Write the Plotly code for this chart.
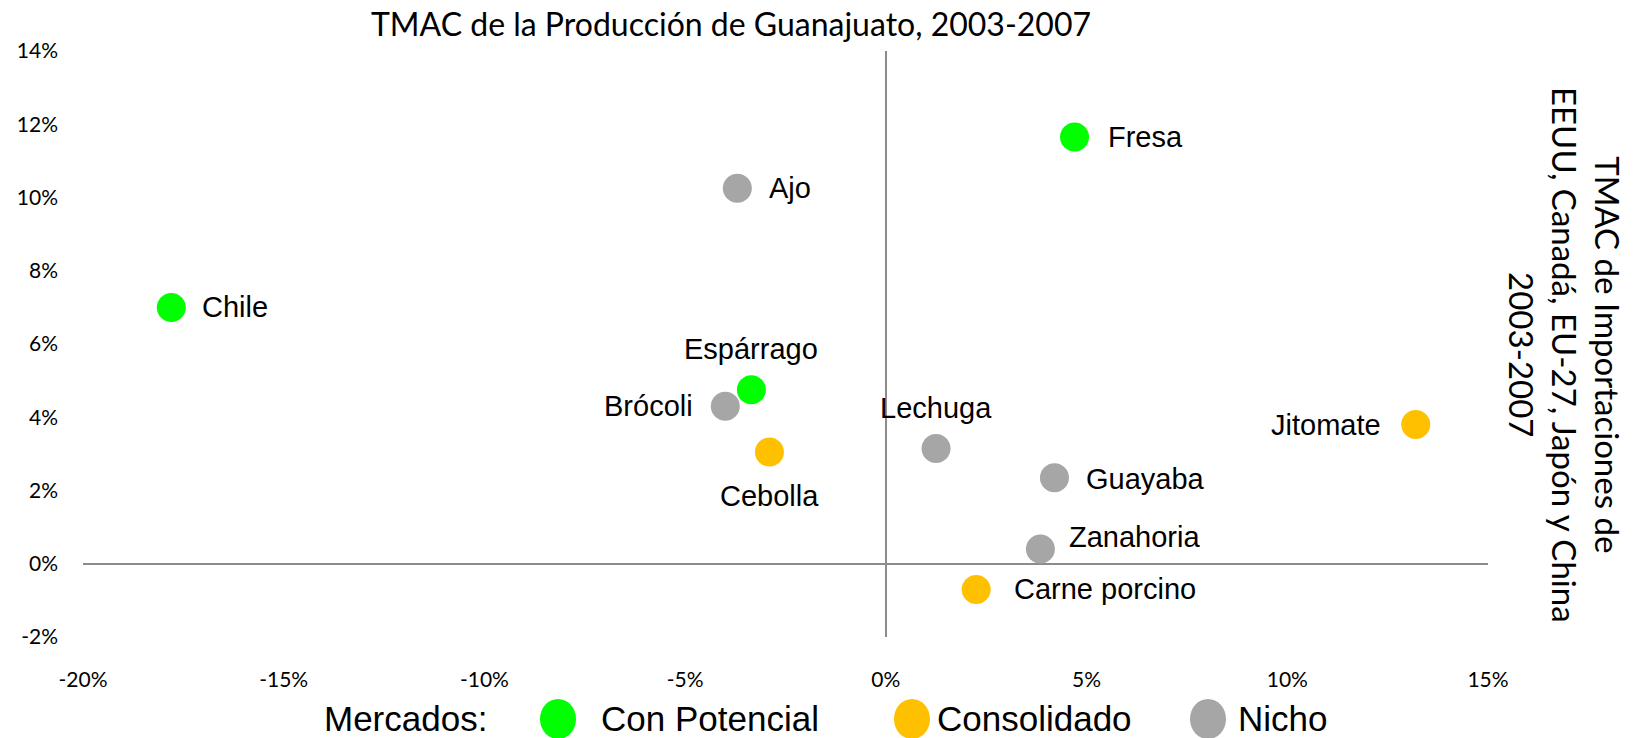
import plotly.graph_objects as go

# ---------------- data ----------------
productos = ["Chile", "Ajo", "Fresa", "Espárrago", "Brócoli", "Cebolla",
             "Lechuga", "Guayaba", "Zanahoria", "Carne porcino", "Jitomate"]
tmac_produccion = [-17.8, -3.7, 4.7, -3.35, -4.0, -2.9, 1.25, 4.2, 3.85, 2.25, 13.2]
tmac_importaciones = [7.0, 10.25, 11.65, 4.75, 4.3, 3.05, 3.15, 2.35, 0.4, -0.7, 3.8]
mercado = ["Con Potencial", "Nicho", "Con Potencial", "Con Potencial", "Nicho",
           "Consolidado", "Nicho", "Nicho", "Nicho", "Consolidado", "Consolidado"]

categorias = ["Con Potencial", "Consolidado", "Nicho"]
x_ticks = [-20, -15, -10, -5, 0, 5, 10, 15]
y_ticks = [-2, 0, 2, 4, 6, 8, 10, 12, 14]

# ---------------- styles ----------------
colores = {"Con Potencial": "#00FF00", "Consolidado": "#FFC000", "Nicho": "#A6A6A6"}
# label placement: (xanchor, xshift, yshift)
label_pos = {
    "Chile": ("left", 29, 0),
    "Ajo": ("left", 30, 0),
    "Fresa": ("left", 31, 0),
    "Espárrago": ("center", 0, 41),
    "Brócoli": ("right", -30, 0),
    "Cebolla": ("center", 0, -44),
    "Lechuga": ("center", 0, 40),
    "Guayaba": ("left", 30, -1),
    "Zanahoria": ("left", 27, 12),
    "Carne porcino": ("left", 36, 0),
    "Jitomate": ("right", -33, 0),
}
LABEL_FONT = dict(family="Liberation Sans, Arial, sans-serif", size=29, color="black")
TICK_FONT = dict(family="Lato, Calibri, sans-serif", size=21, color="black")

# body margin is removed in the page, so figure coords = page coords
W, H = 1637, 738
PLOT_L, PLOT_R, PLOT_T, PLOT_B = 83, 1488, 51, 637  # page pixels
ML, MR = PLOT_L, W - PLOT_R
MT, MB = PLOT_T, H - PLOT_B
PW, PH = PLOT_R - PLOT_L, PLOT_B - PLOT_T


def px_x(px):
    return (px - PLOT_L) / PW


def px_y(py):
    return (PLOT_B - py) / PH


fig = go.Figure()

draw_order = ["Nicho", "Consolidado", "Con Potencial"]
for cat in draw_order:
    xs = [x for x, m in zip(tmac_produccion, mercado) if m == cat]
    ys = [y for y, m in zip(tmac_importaciones, mercado) if m == cat]
    names = [p for p, m in zip(productos, mercado) if m == cat]
    fig.add_trace(go.Scatter(
        x=xs, y=ys, mode="markers", name=cat, text=names,
        marker=dict(size=29, color=colores[cat], line=dict(width=0)),
        showlegend=False, hoverinfo="text",
    ))

annotations = []
for p, x, y in zip(productos, tmac_produccion, tmac_importaciones):
    xa, xs_, ys_ = label_pos[p]
    annotations.append(dict(
        x=x, y=y, xref="x", yref="y", text=p, showarrow=False,
        xanchor=xa, yanchor="middle", xshift=xs_, yshift=ys_, font=LABEL_FONT,
    ))

# right-side axis title
annotations.append(dict(
    xref="paper", yref="paper", x=px_x(1565), y=px_y(355),
    text="TMAC de Importaciones de<br>EEUU, Canadá, EU-27, Japón y China<br>2003-2007",
    showarrow=False, textangle=90, xanchor="center", yanchor="middle",
    font=dict(family="Lato, Calibri, sans-serif", size=33, color="black"),
))

# custom legend
LEG_Y = 718
LEG_FONT = dict(family="Liberation Sans, Arial, sans-serif", size=35, color="black")

annotations.append(dict(xref="paper", yref="paper", x=px_x(323), y=px_y(LEG_Y),
                        text="Mercados:", showarrow=False, xanchor="left",
                        yanchor="middle", font=LEG_FONT, borderpad=0))
legend_marker_x = [558, 912, 1208]
legend_text_x = [600, 936, 1237]
shapes = []
for cat, mx, tx in zip(categorias, legend_marker_x, legend_text_x):
    shapes.append(dict(
        type="circle", xref="paper", yref="paper", xsizemode="pixel", ysizemode="pixel",
        xanchor=px_x(mx), yanchor=px_y(LEG_Y + 1), x0=-18, x1=18, y0=-20, y1=20,
        fillcolor=colores[cat], line=dict(width=0),
    ))
    annotations.append(dict(xref="paper", yref="paper", x=px_x(tx), y=px_y(LEG_Y),
                            text=cat, showarrow=False, xanchor="left",
                            yanchor="middle", font=LEG_FONT, borderpad=0))

fig.update_layout(
    width=W, height=H, autosize=False,
    margin=dict(l=ML, r=MR, t=MT, b=MB, pad=0),
    paper_bgcolor="white", plot_bgcolor="white",
    title=dict(text="TMAC de la Producción de Guanajuato, 2003-2007",
               x=731 / W, xanchor="center", y=1 - 25 / H, yanchor="middle",
               font=dict(family="Lato, Calibri, sans-serif", size=32, color="black")),
    xaxis=dict(range=[-20, 15], tickvals=x_ticks, ticktext=[f"{v}%" for v in x_ticks],
               showgrid=False, zeroline=True, zerolinecolor="#8C8C8C", zerolinewidth=2,
               showline=False, ticks="", tickfont=TICK_FONT, ticklabelstandoff=28,
               fixedrange=True, automargin=False),
    yaxis=dict(range=[-2, 14], tickvals=y_ticks, ticktext=[f"{v}%" for v in y_ticks],
               showgrid=False, zeroline=True, zerolinecolor="#8C8C8C", zerolinewidth=2,
               showline=False, ticks="", tickfont=TICK_FONT, ticklabelstandoff=24,
               fixedrange=True, automargin=False),
    annotations=annotations,
    shapes=shapes,
    showlegend=False,
)

fig.write_html("out.html",
               config={"displayModeBar": False},
               post_script="document.body.style.margin='0px';document.body.style.overflow='hidden';")
